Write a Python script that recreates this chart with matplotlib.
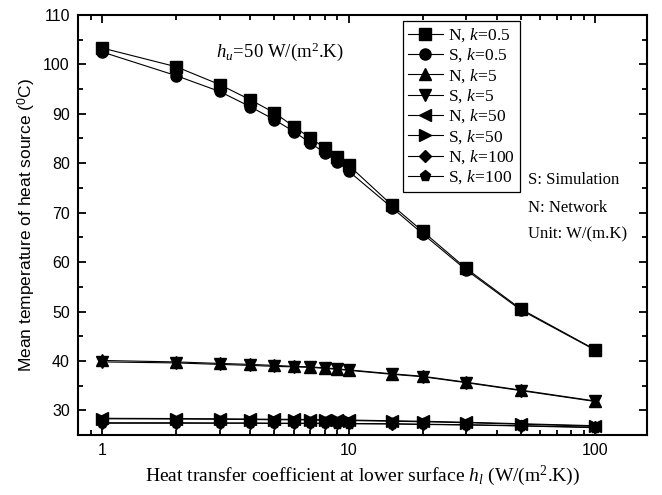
import matplotlib
matplotlib.use("Agg")
import matplotlib.pyplot as plt
from matplotlib.ticker import FixedLocator, LogLocator, MultipleLocator, NullFormatter, FuncFormatter

plt.rcParams['mathtext.fontset'] = 'custom'
plt.rcParams['mathtext.rm'] = 'Liberation Serif'
plt.rcParams['mathtext.it'] = 'Liberation Serif:italic'
plt.rcParams['mathtext.sf'] = 'Liberation Sans'

# lower surface heat transfer coefficient, W/(m2.K)
hl = [1, 2, 3, 4, 5, 6, 7, 8, 9, 10, 15, 20, 30, 50, 100]

# mean temperature of heat source (C)
n_k05 = [103.3, 99.5, 95.9, 92.8, 90.2, 87.4, 85.1, 83.1, 81.3, 79.6, 71.5, 66.2, 58.7, 50.5, 42.3]
s_k05 = [102.5, 97.7, 94.5, 91.4, 88.8, 86.4, 84.1, 82.1, 80.3, 78.4, 71.0, 65.7, 58.4, 50.3, 42.2]
n_k5 = [40.1, 39.8, 39.5, 39.3, 39.1, 38.9, 38.8, 38.6, 38.4, 38.2, 37.4, 36.9, 35.7, 34.1, 31.9]
s_k5 = [39.8, 39.6, 39.3, 39.1, 38.9, 38.8, 38.7, 38.5, 38.3, 38.1, 37.3, 36.8, 35.6, 34.0, 31.8]
n_k50 = [28.4, 28.35, 28.3, 28.25, 28.2, 28.2, 28.15, 28.1, 28.1, 28.05, 27.9, 27.8, 27.6, 27.3, 26.9]
s_k50 = [28.3, 28.25, 28.2, 28.15, 28.1, 28.1, 28.05, 28.0, 28.0, 27.95, 27.8, 27.7, 27.5, 27.2, 26.8]
n_k100 = [27.5, 27.5, 27.45, 27.45, 27.4, 27.4, 27.4, 27.4, 27.35, 27.35, 27.3, 27.2, 27.1, 26.9, 26.6]
s_k100 = [27.4, 27.4, 27.4, 27.4, 27.35, 27.35, 27.35, 27.35, 27.3, 27.3, 27.25, 27.15, 27.05, 26.85, 26.5]

series = [
    (n_k05, 's', 'N, $\\mathit{k\\!=\\!0.5}$'),
    (s_k05, 'o', 'S, $\\mathit{k\\!=\\!0.5}$'),
    (n_k5, '^', 'N, $\\mathit{k\\!=\\!5}$'),
    (s_k5, 'v', 'S, $\\mathit{k\\!=\\!5}$'),
    (n_k50, '<', 'N, $\\mathit{k\\!=\\!50}$'),
    (s_k50, '>', 'S, $\\mathit{k\\!=\\!50}$'),
    (n_k100, 'D', 'N, $\\mathit{k\\!=\\!100}$'),
    (s_k100, 'p', 'S, $\\mathit{k\\!=\\!100}$'),
]

fig = plt.figure(figsize=(6.62, 4.95), dpi=100)
ax = fig.add_axes([0.118, 0.121, 0.859, 0.849])

for y, m, lab in series:
    ms = 6.5 if m == 'D' else 8
    ax.plot(hl, y, color='black', lw=0.8, marker=m, ms=ms, mfc='black', mec='black', label=lab)

ax.set_xscale('log')
ax.set_xlim(0.8, 162)
ax.set_ylim(25, 110)
ax.xaxis.set_major_locator(FixedLocator([1, 10, 100]))
ax.xaxis.set_minor_locator(LogLocator(base=10, subs=range(2, 10)))
ax.xaxis.set_major_formatter(FuncFormatter(lambda v, p: '%g' % v))
ax.xaxis.set_minor_formatter(NullFormatter())
ax.yaxis.set_major_locator(MultipleLocator(10))
ax.yaxis.set_minor_locator(MultipleLocator(5))

ax.tick_params(which='both', direction='in', top=True, right=True, width=1.3)
ax.tick_params(which='major', length=6, labelsize=11.5, pad=6)
ax.tick_params(which='minor', length=3.5)
for lbl in ax.get_xticklabels() + ax.get_yticklabels():
    lbl.set_family('Liberation Sans')
for sp in ax.spines.values():
    sp.set_linewidth(1.5)

ax.set_ylabel('Mean temperature of heat source ($^{\\mathsf{0}}$C)', family='Liberation Sans', fontsize=12.5)
ax.set_xlabel('Heat transfer coefficient at lower surface $h_l$ (W/(m$^2$.K))', family='Liberation Serif', fontsize=14)

ax.text(0.242, 0.9, '$\\mathit{h_u\\!=\\!50}$ W/(m$^2$.K)', transform=ax.transAxes, family='Liberation Serif', fontsize=13.5)
ax.text(0.792, 0.597, 'S: Simulation', transform=ax.transAxes, family='Liberation Serif', fontsize=12)
ax.text(0.792, 0.532, 'N: Network', transform=ax.transAxes, family='Liberation Serif', fontsize=12)
ax.text(0.792, 0.467, 'Unit: W/(m.K)', transform=ax.transAxes, family='Liberation Serif', fontsize=12)

leg = ax.legend(loc='upper left', bbox_to_anchor=(0.571, 0.985), prop={'family': 'Liberation Serif', 'size': 12.5},
                frameon=True, fancybox=False, edgecolor='black', framealpha=1, handlelength=2.0,
                labelspacing=0.15, borderpad=0.3, handletextpad=0.3, borderaxespad=0)
leg.get_frame().set_linewidth(0.9)

fig.savefig('out.png', dpi=100)
